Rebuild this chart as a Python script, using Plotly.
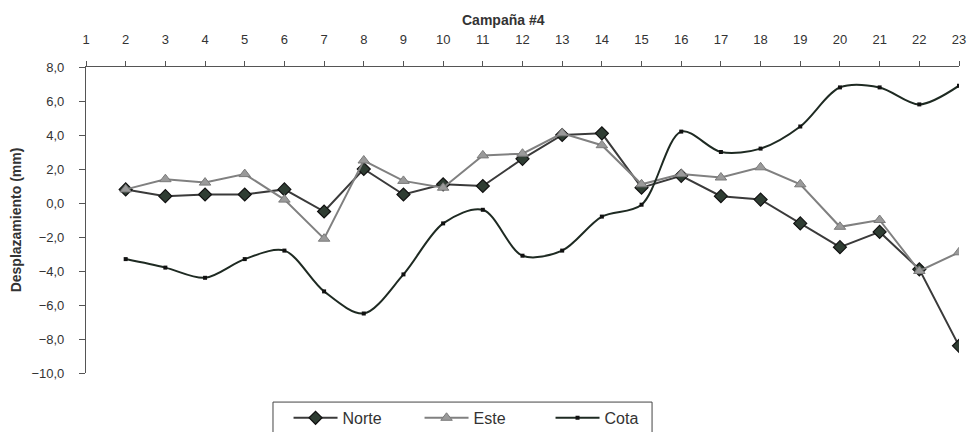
"""
Desplazamiento por campaña — Norte / Este / Cota
"""

import plotly.graph_objects as go

campanas = list(range(2, 24))

norte = [0.8, 0.4, 0.5, 0.5, 0.8, -0.5, 2.0, 0.5, 1.1, 1.0, 2.6, 4.0,
         4.1, 0.9, 1.6, 0.4, 0.2, -1.2, -2.6, -1.7, -3.9, -8.4]
este = [0.8, 1.4, 1.2, 1.7, 0.2, -2.1, 2.5, 1.3, 0.9, 2.8, 2.9, 4.1,
        3.4, 1.1, 1.7, 1.5, 2.1, 1.1, -1.4, -1.0, -4.0, -2.9]
cota = [-3.3, -3.8, -4.4, -3.3, -2.8, -5.2, -6.5, -4.2, -1.2, -0.4, -3.1, -2.8,
        -0.8, -0.1, 4.2, 3.0, 3.2, 4.5, 6.8, 6.8, 5.8, 6.9]

x_ticks = list(range(1, 24))
y_ticks = [8, 6, 4, 2, 0, -2, -4, -6, -8, -10]

FONT = "Liberation Sans, Arial, sans-serif"
AXIS_COLOR = "#555555"
TEXT_COLOR = "#333333"

fig = go.Figure()

fig.add_trace(go.Scatter(
    x=campanas, y=norte, name="Norte",
    mode="lines+markers",
    line=dict(color="#3a3a3a", width=2),
    marker=dict(symbol="diamond", size=10, color="#2f3d33",
                line=dict(color="#111111", width=1.2)),
))

fig.add_trace(go.Scatter(
    x=campanas, y=este, name="Este",
    mode="lines+markers",
    line=dict(color="#808080", width=2),
    marker=dict(symbol="triangle-up", size=10, color="#9a9a9a",
                line=dict(color="#7a7a7a", width=1)),
))

fig.add_trace(go.Scatter(
    x=campanas, y=cota, name="Cota",
    mode="lines+markers",
    line=dict(color="#1e2a22", width=2, shape="spline", smoothing=0.9),
    marker=dict(symbol="square", size=4, color="#111111"),
))

fig.update_layout(
    width=973, height=432,
    paper_bgcolor="white", plot_bgcolor="white",
    separators=",.",
    font=dict(family=FONT, size=13, color=TEXT_COLOR),
    margin=dict(l=86, r=14, t=67, b=59),
    showlegend=True,
    legend=dict(
        orientation="h",
        xref="paper", x=0.232, xanchor="left",
        yref="container", y=0.072, yanchor="top",
        bgcolor="rgba(0,0,0,0)", borderwidth=0,
        font=dict(family=FONT, size=16, color=TEXT_COLOR),
        itemwidth=44,
        entrywidth=72,
        traceorder="normal",
    ),
    # legend frame (Excel style, with padding round the entries)
    shapes=[
        dict(type="rect", xref="paper", yref="paper",
             x0=0.2142, x1=0.6484, y0=-0.095, y1=-0.25,
             line=dict(color="#444444", width=1), fillcolor="rgba(0,0,0,0)",
             layer="below"),
    ],
    annotations=[
        dict(text="<b>Campaña #4</b>", xref="paper", yref="paper",
             x=0.478, xanchor="center", y=1.0, yshift=47,
             showarrow=False, yanchor="middle",
             font=dict(family=FONT, size=14, color=TEXT_COLOR)),
    ],
)

fig.update_xaxes(
    side="top",
    range=[1, 23],
    automargin=False,
    tickmode="array", tickvals=x_ticks,
    ticks="outside", ticklen=5, tickcolor=AXIS_COLOR,
    ticklabelstandoff=12,
    showline=True, linecolor=AXIS_COLOR, linewidth=1.2,
    showgrid=False, zeroline=False,
    tickfont=dict(family=FONT, size=13, color=TEXT_COLOR),
)

fig.update_yaxes(
    range=[-10, 8],
    automargin=False,
    tickmode="array", tickvals=y_ticks, tickformat=".1f",
    ticks="outside", ticklen=6, tickcolor=AXIS_COLOR,
    ticklabelstandoff=12,
    showline=True, linecolor=AXIS_COLOR, linewidth=1.2,
    showgrid=False, zeroline=False,
    title=dict(text="<b>Desplazamiento (mm)</b>", standoff=6,
               font=dict(family=FONT, size=14, color=TEXT_COLOR)),
    tickfont=dict(family=FONT, size=13, color=TEXT_COLOR),
)

# the page body has a default 8px margin; drop it so the figure sits at 0,0
fig.write_html(
    "out.html",
    config={"displayModeBar": False},
    post_script="document.body.style.margin='0px';",
)
